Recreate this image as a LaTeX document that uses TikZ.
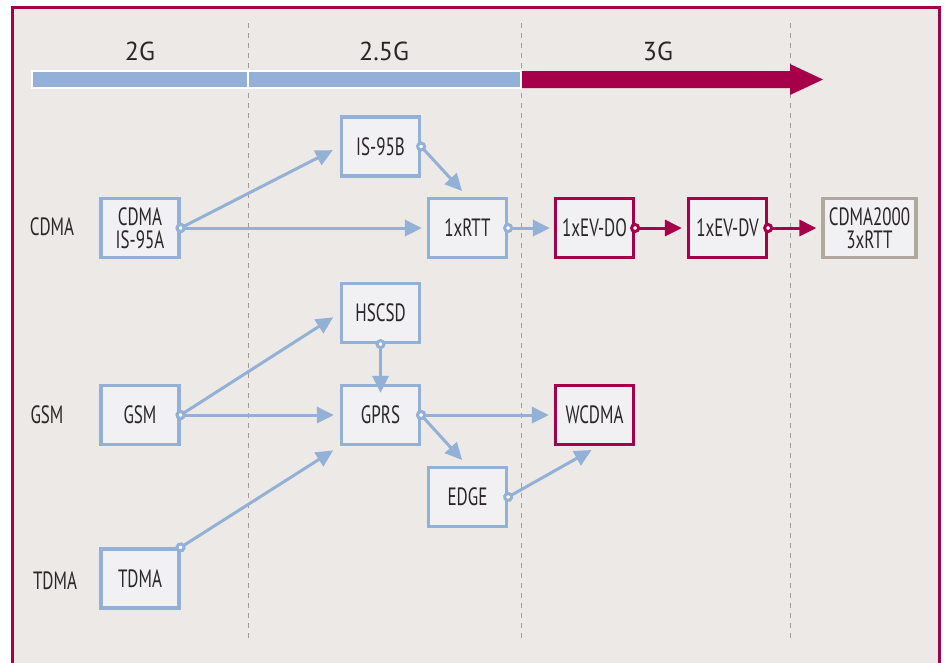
\documentclass[tikz,border=0pt]{standalone}
\usepackage{fontspec}
\setmainfont{PT Sans}[FakeStretch=0.68]
\newfontfamily\erafont{PT Sans}
\usetikzlibrary{arrows.meta,positioning}

\definecolor{bgbeige}{HTML}{EDE9E6}
\definecolor{boxfill}{HTML}{F1F1F3}
\definecolor{lineblue}{HTML}{93B0D6}
\definecolor{plum}{HTML}{A6004B}
\definecolor{stone}{HTML}{B0A79F}
\definecolor{dashgrey}{HTML}{A39B95}
\definecolor{ink}{HTML}{2A2527}

\tikzset{
  tech/.style={draw=lineblue, line width=3.2pt, fill=boxfill, minimum width=78pt,
    minimum height=59pt, inner sep=0pt, align=center, text=ink,
    font=\fontsize{25}{23}\selectfont},
  techthree/.style={tech, draw=plum},
  techfuture/.style={tech, draw=stone, minimum width=93pt},
  link/.style={lineblue, line width=3pt, shorten <=-5pt,
    {Circle[length=10pt,width=10pt,fill=white]}-{Triangle[length=17pt,width=16pt]}},
  linkthree/.style={link, plum},
  rowlabel/.style={text=ink, font=\fontsize{25}{25}\selectfont},
  eralabel/.style={text=ink, font=\erafont\fontsize{26}{26}\selectfont}
}

\begin{document}
\begin{tikzpicture}[x=1pt,y=-1pt]
  \useasboundingbox (0,0) rectangle (945,662);
  \clip (0,0) rectangle (945,662);
  \fill[white] (0,0) rectangle (945,662);
  \fill[bgbeige] (12.5,7.5) rectangle (939.5,680);
  \draw[plum, line width=3.5pt] (12.5,680) -- (12.5,7.5) -- (939.5,7.5) -- (939.5,680);
% era dividers
  \foreach \x in {248,521,790}
    \draw[dashgrey, line width=1pt, dash pattern=on 5pt off 5pt] (\x,23) -- (\x,642);
% era bar
  \node[eralabel] (era2g) at (140,51) {2G};
  \node[eralabel] (era25g) at (384,51) {2.5G};
  \node[eralabel] (era3g) at (658,51) {3G};
  \fill[lineblue] (32,71) rectangle (521,88);
  \fill[plum] (521,71) -- (790,71) -- (790,64) -- (823,79.5) -- (790,95) -- (790,88) -- (521,88) -- cycle;
  \draw[white, line width=1.2pt] (32,71) rectangle (521,88);
  \draw[white, line width=1.2pt] (248,71) -- (248,88);
% rows
  \node[rowlabel] (rowcdma) at (52,227) {CDMA};
  \node[rowlabel] (rowgsm) at (47,415) {GSM};
  \node[rowlabel] (rowtdma) at (55,581) {TDMA};
% CDMA line
  \node[tech] (cdma) at (140,228) {CDMA\\IS-95A};
  \node[tech] (is95b) at (380.5,146.5) {IS-95B};
  \node[tech] (onexrtt) at (467.5,228) {1xRTT};
  \node[techthree] (evdo) at (594.5,228) {1xEV-DO};
  \node[techthree] (evdv) at (727.5,228) {1xEV-DV};
  \node[techfuture] (threexrtt) at (869.5,228) {CDMA2000\\3xRTT};
% GSM and TDMA line
  \node[tech] (hscsd) at (380.5,313) {HSCSD};
  \node[tech] (gsm) at (140,415) {GSM};
  \node[tech] (gprs) at (380.5,415) {GPRS};
  \node[techthree] (wcdma) at (594.5,415) {WCDMA};
  \node[tech] (edge) at (467.5,497) {EDGE};
  \node[tech] (tdma) at (140,578.5) {TDMA};
% evolution paths
  \draw[link, shorten >=8pt] (cdma.east) -- (is95b.west);
  \draw[link, shorten >=5pt] (cdma.east) -- (onexrtt.west);
  \draw[link, shorten >=8pt] (is95b.east) -- (onexrtt.north);
  \draw[link, shorten >=4pt] (onexrtt.east) -- (evdo.west);
  \draw[linkthree, shorten >=5pt] (evdo.east) -- (evdv.west);
  \draw[linkthree, shorten >=5pt] (evdv.east) -- (threexrtt.west);
  \draw[link, shorten >=8pt] (gsm.east) -- (hscsd.west);
  \draw[link, shorten >=6pt] (gsm.east) -- (gprs.west);
  \draw[link, shorten >=-9pt] (hscsd.south) -- (gprs.north);
  \draw[link, shorten >=5pt] (gprs.east) -- (wcdma.west);
  \draw[link, shorten >=8pt] (gprs.east) -- (edge.north);
  \draw[link, shorten >=8pt] (edge.east) -- ([xshift=4pt]wcdma.south);
  \draw[link, shorten >=8pt] (tdma.north east) -- (gprs.south west);
\end{tikzpicture}
\end{document}
